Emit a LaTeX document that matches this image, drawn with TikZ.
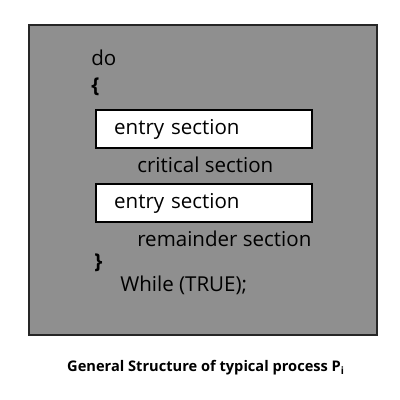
\documentclass[tikz,border=0pt]{standalone}
\usepackage{fontspec}
\setmainfont{Open Sans}
\usepackage{tikz}
\usetikzlibrary{positioning}
\definecolor{panelgray}{HTML}{8F8F8F}

\begin{document}
\begin{tikzpicture}[x=0.025cm, y=-0.025cm,
    code/.style={anchor=west, inner sep=0pt, font=\fontsize{14.6}{18}\selectfont},
    sectionbox/.style={draw=black, fill=white, line width=1.6pt, anchor=north west,
        minimum width=5.4cm, minimum height=0.95cm, inner xsep=0.4cm,
        text width=4.5cm, align=left, font=\fontsize{14.6}{18}\selectfont}]
    \useasboundingbox (0,0) rectangle (400,400);
    \draw [fill=panelgray, draw=black!85, line width=1.4pt] (29,25) rectangle (377,335);
    \node [code] (do) at (91,58) {do};
    \node [code] (open) at (91,87) {\textbf{\{}};
    \node [sectionbox] (entryA) at (95,109) {entry section};
    \node [code] (crit) at (137,165) {critical section};
    \node [sectionbox] (entryB) at (95,183) {entry section};
    \node [code] (rem) at (137,239) {remainder section};
    \node [code] (close) at (94,263) {\textbf{\}}};
    \node [code] (loop) at (120,285) {While (TRUE);};
    \node [font=\fontsize{10.4}{12}\selectfont\bfseries] (caption) at (206,368)
        {General Structure of typical process P\textsubscript{i}};
\end{tikzpicture}
\end{document}
